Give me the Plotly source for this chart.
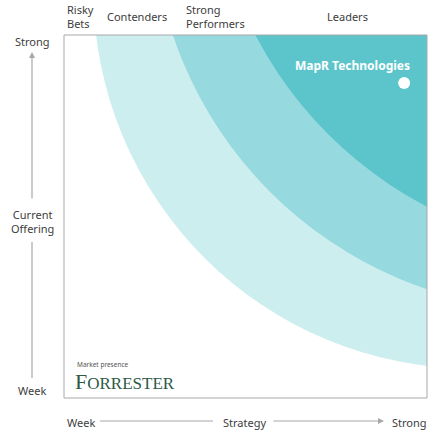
import plotly.graph_objects as go

# wave bands, outermost first: circle centre sits beyond the top-right corner
# (offset along the diagonal, axis units) with the given radius
band_offset = [12.4, 35.4, 51.2]
band_radius = [104.3, 111.2, 111.0]
band_colors = ["#cdeeef", "#96d9de", "#5bc5cb"]

# market segments along the top edge
segment_labels = ["Risky<br>Bets", "Contenders", "Strong<br>Performers", "Leaders"]
segment_px = [65, 105, 184, 325]

vendor_names = ["MapR Technologies"]
vendor_strategy = [93.7]
vendor_offering = [86.8]

W, H = 428, 432
L, T, SIDE = 64, 35, 363
TEXT = "#3d3d3d"
GRID = "#a8a8a8"
FONT = "Noto Sans"


def px(x):
    # screen pixel -> paper fraction
    return (x - L) / SIDE


def py(y):
    return (T + SIDE - y) / SIDE


fig = go.Figure()

for d, r, c in zip(band_offset, band_radius, band_colors):
    fig.add_shape(type="circle", xref="x", yref="y",
                  x0=100 + d - r, x1=100 + d + r, y0=100 + d - r, y1=100 + d + r,
                  fillcolor=c, line_width=0, layer="below")

fig.add_shape(type="rect", xref="paper", yref="paper", x0=0, x1=1, y0=0, y1=1,
              line=dict(color=GRID, width=1), layer="above")

fig.add_trace(go.Scatter(x=vendor_strategy, y=vendor_offering, mode="markers",
                         marker=dict(size=12, color="white"), hoverinfo="text",
                         text=vendor_names, showlegend=False))

for name, x, y in zip(vendor_names, vendor_strategy, vendor_offering):
    fig.add_annotation(x=x, y=y, text="<b>%s</b>" % name, showarrow=False,
                       xanchor="right", yanchor="middle", xshift=8, yshift=17,
                       font=dict(family=FONT, size=12, color="white"))

for lab, x in zip(segment_labels, segment_px):
    fig.add_annotation(xref="paper", yref="paper", x=px(x), y=py(16), text=lab,
                       showarrow=False, xanchor="left", yanchor="middle", align="left",
                       font=dict(family=FONT, size=11, color=TEXT))

# vertical axis (current offering)
side_text = [("Strong", 42), ("Current<br>Offering", 221), ("Week", 390)]
for lab, y in side_text:
    fig.add_annotation(xref="paper", yref="paper", x=px(32), y=py(y), text=lab,
                       showarrow=False, xanchor="center", yanchor="middle",
                       font=dict(family=FONT, size=11, color=TEXT))
fig.add_annotation(xref="paper", yref="paper", x=px(32), y=py(52), ax=0, ay=148,
                   text="", showarrow=True, arrowhead=2, arrowsize=1, arrowwidth=1.2,
                   arrowcolor=GRID)
fig.add_shape(type="line", xref="paper", yref="paper", x0=px(32), x1=px(32),
              y0=py(242), y1=py(378), line=dict(color=GRID, width=1.2))

# horizontal axis (strategy)
bottom_text = [("Week", 81), ("Strategy", 244), ("Strong", 409)]
for lab, x in bottom_text:
    fig.add_annotation(xref="paper", yref="paper", x=px(x), y=py(422), text=lab,
                       showarrow=False, xanchor="center", yanchor="middle",
                       font=dict(family=FONT, size=11, color=TEXT))
fig.add_shape(type="line", xref="paper", yref="paper", x0=px(100), x1=px(213),
              y0=py(421), y1=py(421), line=dict(color=GRID, width=1.2))
fig.add_annotation(xref="paper", yref="paper", x=px(384), y=py(421), ax=-112, ay=0,
                   text="", showarrow=True, arrowhead=2, arrowsize=1, arrowwidth=1.2,
                   arrowcolor=GRID)

# logo
fig.add_annotation(xref="paper", yref="paper", x=px(75), y=py(364), text="Market presence",
                   showarrow=False, xanchor="left", yanchor="middle",
                   font=dict(family=FONT, size=6.5, color="#555555"))
fig.add_annotation(xref="paper", yref="paper", x=px(73), y=py(381),
                   text="<span style='font-size:22px'>F</span>ORRESTER",
                   showarrow=False, xanchor="left", yanchor="middle",
                   font=dict(family="Liberation Serif", size=17, color="#2d5a45"))

fig.update_layout(
    width=W, height=H,
    margin=dict(l=L, r=W - L - SIDE, t=T, b=H - T - SIDE),
    plot_bgcolor="white", paper_bgcolor="white",
    xaxis=dict(visible=False, range=[0, 100], fixedrange=True),
    yaxis=dict(visible=False, range=[0, 100], fixedrange=True),
    showlegend=False,
)

fig.write_html("out.html", config={"displayModeBar": False},
               post_script="document.body.style.margin = '0';")
